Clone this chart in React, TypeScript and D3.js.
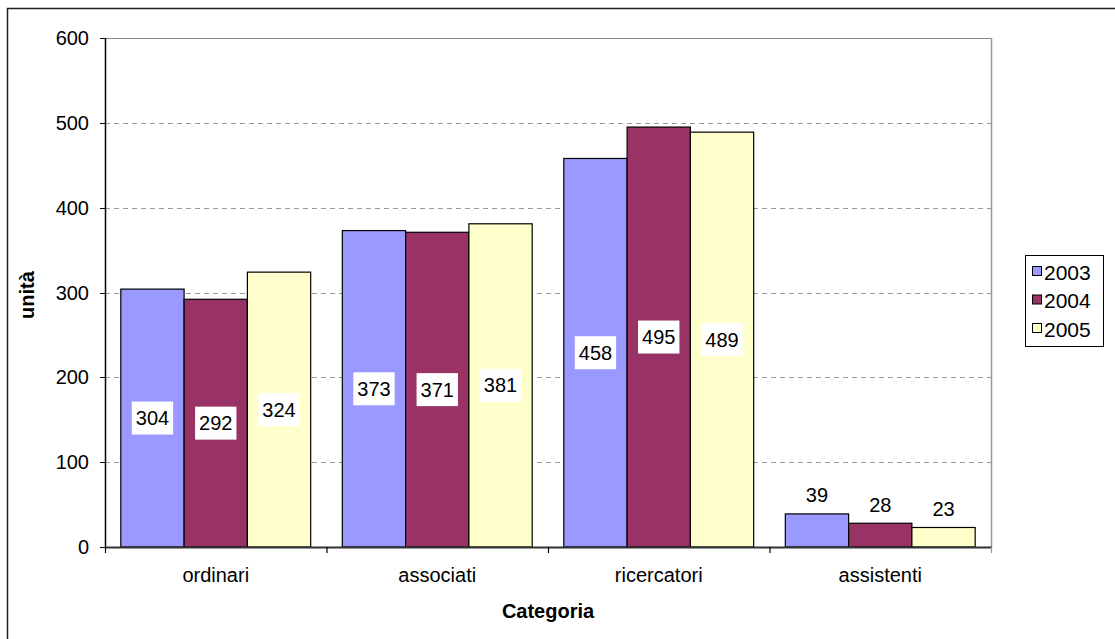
import React from "react";
import * as d3 from "d3";

const categories = ["ordinari", "associati", "ricercatori", "assistenti"];
const years = ["2003", "2004", "2005"];
const values2003 = [304, 373, 458, 39];
const values2004 = [292, 371, 495, 28];
const values2005 = [324, 381, 489, 23];
const yTicks = [0, 100, 200, 300, 400, 500, 600];
const colors = ["#9999FF", "#993366", "#FFFFCC"];

const W = 1115;
const H = 639;
const FONT = "'Liberation Sans', Arial, sans-serif";
const FS = 20;

export default function App() {
  const series = [values2003, values2004, values2005];
  const left = 105;
  const right = 991;
  const top = 38;
  const bottom = 547;

  const x0 = d3.scaleBand<string>().domain(categories).range([left, right]).paddingInner(0).paddingOuter(0);
  // gap between groups is half a bar wide, split on both sides of each group
  const barW = x0.bandwidth() / 3.5;
  const groupPad = barW * 0.5 / 2;
  const x1 = d3
    .scaleBand<string>()
    .domain(years)
    .range([groupPad, x0.bandwidth() - groupPad]);
  const y = d3.scaleLinear().domain([0, 600]).range([bottom, top]);

  const boundaries = [...categories.map((c) => x0(c) as number), right];

  return (
    <svg
      width={W}
      height={H}
      style={{ position: "absolute", left: 0, top: 0, background: "#fff" }}
      fontFamily={FONT}
    >
      {/* outer chart frame, running off the page on the right and bottom */}
      <rect x={7.5} y={8.5} width={1200} height={700} fill="#fff" stroke="#222" strokeWidth={1.5} />

      {/* gridlines */}
      {yTicks.filter((t) => t > 0 && t < 600).map((t) => (
        <line
          key={t}
          x1={left}
          x2={right}
          y1={Math.round(y(t)) + 0.5}
          y2={Math.round(y(t)) + 0.5}
          stroke="#999"
          strokeDasharray="5,4"
        />
      ))}
      {/* plot area top and right edges */}
      <line x1={left} x2={right} y1={top + 0.5} y2={top + 0.5} stroke="#888" />
      <line x1={right + 0.5} x2={right + 0.5} y1={top} y2={bottom} stroke="#999" strokeWidth={1.5} />

      {/* bars */}
      {categories.map((c, ci) => (
        <g key={c} transform={`translate(${x0(c)},0)`}>
          {years.map((yr, si) => {
            const v = series[si][ci];
            return (
              <rect
                key={yr}
                x={(x1(yr) as number)}
                y={y(v)}
                width={x1.bandwidth()}
                height={bottom - y(v)}
                fill={colors[si]}
                stroke="#000"
                strokeWidth={1.2}
              />
            );
          })}
        </g>
      ))}

      {/* data labels */}
      {categories.map((c, ci) =>
        years.map((yr, si) => {
          const v = series[si][ci];
          const cx = (x0(c) as number) + (x1(yr) as number) + x1.bandwidth() / 2;
          const inside = v > 100;
          const cy = inside ? y(v / 2) : y(v) - 18.5;
          const label = String(v);
          const bw = label.length * 0.556 * FS + 8;
          const bh = 33;
          return (
            <g key={c + yr}>
              {inside && (
                <rect x={cx - bw / 2} y={cy - bh / 2} width={bw} height={bh} fill="#fff" />
              )}
              <text
                x={cx}
                y={cy}
                textAnchor="middle"
                dominantBaseline="central"
                fontSize={FS}
                fill="#000"
              >
                {label}
              </text>
            </g>
          );
        })
      )}

      {/* y axis */}
      <line x1={left + 0.5} x2={left + 0.5} y1={top} y2={bottom} stroke="#000" strokeWidth={1.5} />
      {yTicks.map((t) => (
        <g key={t}>
          <line x1={left - 5} x2={left} y1={Math.round(y(t)) + 0.5} y2={Math.round(y(t)) + 0.5} stroke="#000" />
          <text
            x={89}
            y={y(t)}
            textAnchor="end"
            dominantBaseline="central"
            fontSize={FS}
            fill="#000"
          >
            {t}
          </text>
        </g>
      ))}

      {/* x axis */}
      <line x1={left} x2={right + 1} y1={bottom + 0.5} y2={bottom + 0.5} stroke="#333" strokeWidth={2} />
      {boundaries.map((b, i) => (
        <line
          key={i}
          x1={b + 0.5}
          x2={b + 0.5}
          y1={bottom}
          y2={bottom + 6}
          stroke={i === boundaries.length - 1 ? "#999" : "#000"}
          strokeWidth={1.2}
        />
      ))}
      {categories.map((c) => (
        <text
          key={c}
          x={(x0(c) as number) + x0.bandwidth() / 2}
          y={582}
          textAnchor="middle"
          fontSize={FS}
          fill="#000"
        >
          {c}
        </text>
      ))}

      {/* axis titles */}
      <text x={548} y={618} textAnchor="middle" fontSize={FS} fontWeight="bold" fill="#000">
        Categoria
      </text>
      <text
        transform="translate(34,295) rotate(-90)"
        textAnchor="middle"
        fontSize={FS}
        fontWeight="bold"
        fill="#000"
      >
        unità
      </text>

      {/* legend */}
      <rect x={1025.5} y={255.5} width={78} height={91} fill="#fff" stroke="#000" />
      {years.map((yr, i) => {
        const cy = 271 + i * 28.5;
        return (
          <g key={yr}>
            <rect x={1032.5} y={cy - 4.5} width={9} height={9} fill={colors[i]} stroke="#000" />
            <text x={1044} y={cy + 1} dominantBaseline="central" fontSize={21} fill="#000">
              {yr}
            </text>
          </g>
        );
      })}
    </svg>
  );
}
